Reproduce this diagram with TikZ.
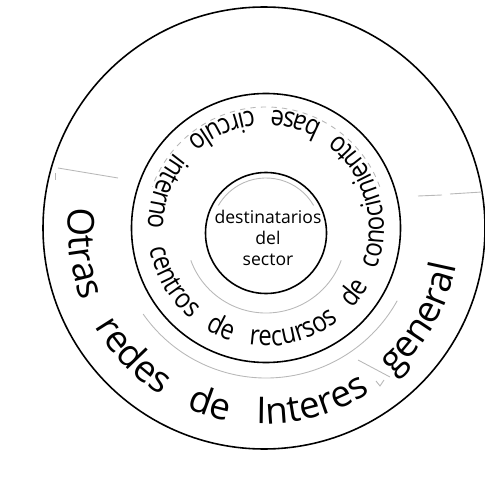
\documentclass[tikz,border=0pt]{standalone}
\usepackage{fontspec}
\newfontfamily\handfont{Open Sans}
\newfontfamily\narrowhand[FakeStretch=0.85]{Open Sans}
\usetikzlibrary{decorations.text}
\tikzset{
  ring/.style={circle,draw=black,line width=0.9pt,inner sep=0pt},
  guide/.style={draw=black!28,line width=0.5pt},
  ringtext/.style={decorate,decoration={text along path,text={#1},
      text align={fit to path stretching spaces}}}
}

\begin{document}
\begin{tikzpicture}
        \useasboundingbox (0,0) rectangle (9.7,9.52);
        % the three rings
        \node[ring,minimum size=8.84cm] (outer) at (5.28,4.96) {};
        \node[ring,minimum size=5.38cm] (middle) at (5.32,4.96) {};
        \node[ring,minimum size=2.42cm] (inner) at (5.32,4.86) {};
        \node[font=\handfont\fontsize{10}{12}\selectfont,align=center] (sec) at (5.36,4.76) {destinatarios\\del\\sector};
        % faint pencil guides
        \draw[guide] (1.16,6.16) -- (2.36,5.96);
        \draw[guide] (1.10,6.06) -- (1.10,5.92);
        \draw[guide] (8.36,5.60) -- (8.84,5.62);
        \draw[guide] (9.00,5.64) -- (9.64,5.68);
        \draw[guide] ([shift={(215:3.0)}]middle.center) arc[start angle=215,end angle=331,radius=3.0cm];
        \draw[guide] (7.16,2.32) -- (7.80,1.98);
        \draw[guide] (7.52,1.90) -- (7.60,1.80) -- (7.68,1.92);
        \draw[guide,dashed] ([shift={(20:2.42)}]middle.center) arc[start angle=20,end angle=160,radius=2.42cm];
        \draw[guide] ([shift={(200:1.6)}]inner.center) arc[start angle=200,end angle=340,radius=1.6cm];
        \draw[guide] ([shift={(30:1.1)}]inner.center) arc[start angle=30,end angle=150,radius=1.1cm];
        % texts along the rings
        \path[ringtext=|\handfont\fontsize{21}{25}\selectfont|Otras redes de Interes general]
          ([shift={(174:3.92)}]outer.center) arc[start angle=174,end angle=349,radius=3.92cm];
        \path[ringtext=|\narrowhand\fontsize{16}{19}\selectfont|centros de recursos de conocimiento base circulo interno]
          ([shift={(190:2.36)}]middle.center) arc[start angle=190,end angle=540,radius=2.36cm];
      \end{tikzpicture}
\end{document}
